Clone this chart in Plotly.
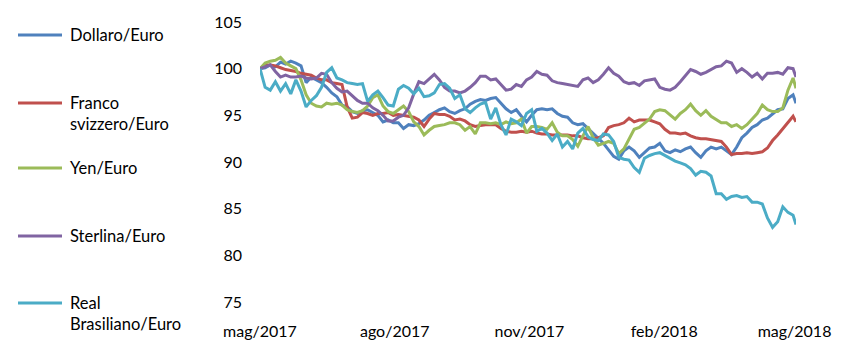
import pandas as pd
import plotly.graph_objects as go

# Twice-weekly observations (index, start = 100) plus the last available day
dates = list(pd.date_range("2017-05-01", periods=105, freq="84h")) + [pd.Timestamp("2018-05-02")]

dollaro = [100.0, 100.1, 100.4, 100.2, 100.7, 100.5, 100.8, 100.6, 100.3, 98.5,
           99.1, 98.8, 98.5, 98.0, 97.4, 97.0, 96.1, 95.9, 95.4, 95.2,
           95.5, 95.6, 95.3, 95.0, 94.3, 94.5, 94.2, 94.2, 93.6, 94.0,
           93.9, 94.1, 94.5, 95.0, 95.3, 95.6, 95.8, 95.4, 95.2, 95.5,
           95.7, 96.2, 96.5, 96.7, 96.6, 96.8, 96.9, 96.3, 95.7, 95.3,
           95.6, 94.9, 94.3, 95.0, 95.6, 95.7, 95.6, 95.7, 95.2, 94.9,
           94.8, 94.2, 94.0, 94.1, 93.6, 93.0, 92.6, 92.0, 91.3, 90.6,
           90.3, 91.2, 91.6, 91.2, 90.5, 91.0, 91.5, 91.6, 92.0, 91.2,
           91.0, 91.3, 91.1, 91.4, 91.6, 91.0, 90.5, 91.2, 91.6, 91.4,
           91.6, 91.2, 90.8, 91.6, 92.6, 93.1, 93.7, 94.0, 94.5, 94.7,
           95.2, 95.6, 95.7, 96.8, 97.2, 96.3]
franco = [100.0, 100.4, 100.4, 100.3, 100.1, 99.9, 99.8, 99.7, 99.5, 99.4,
          99.3, 99.0, 98.8, 98.8, 98.5, 98.4, 98.3, 95.9, 94.7, 94.8,
          95.3, 95.2, 95.0, 95.2, 95.2, 95.3, 95.0, 95.1, 95.0, 94.9,
          94.8, 94.5, 93.8, 94.6, 95.2, 95.1, 95.1, 94.9, 94.5, 94.6,
          94.4, 94.0, 93.8, 93.9, 94.0, 94.0, 94.0, 93.6, 93.3, 93.2,
          93.2, 93.3, 93.2, 93.3, 93.1, 93.0, 93.0, 92.9, 92.9, 92.9,
          92.9, 92.8, 92.8, 92.6, 92.5, 92.5, 92.6, 92.8, 93.7, 93.9,
          94.0, 94.2, 94.7, 94.3, 94.5, 94.5, 94.5, 94.3, 94.1, 93.5,
          93.1, 93.1, 93.0, 93.1, 92.8, 92.6, 92.5, 92.5, 92.4, 92.3,
          92.2, 91.6, 90.8, 90.9, 90.9, 91.0, 90.9, 91.0, 91.1, 91.5,
          92.3, 92.9, 93.6, 94.2, 94.9, 94.3]
yen = [100.0, 100.6, 100.8, 100.9, 101.2, 100.6, 100.3, 100.0, 98.8, 97.2,
       96.3, 96.0, 95.9, 96.3, 96.2, 96.3, 96.1, 95.6, 95.4, 95.3,
       95.5, 96.0, 96.9, 97.2, 96.0, 95.4, 95.2, 95.6, 96.0, 95.4,
       94.3, 93.8, 92.9, 93.4, 93.8, 93.9, 94.0, 94.2, 94.2, 94.0,
       93.4, 93.8, 93.0, 94.2, 94.2, 94.1, 94.2, 94.0, 94.3, 94.1,
       94.2, 94.6, 93.1, 93.8, 93.8, 93.7, 93.5, 94.2, 93.2, 92.8,
       92.8, 92.4, 91.7, 92.8, 93.8, 92.6, 91.8, 92.0, 92.2, 92.0,
       90.9, 91.4, 92.5, 93.5, 93.7, 94.1, 94.6, 95.4, 95.6, 95.5,
       95.0, 94.6, 95.2, 95.6, 96.2, 95.5, 95.0, 95.5, 94.9, 94.5,
       94.2, 94.2, 93.8, 94.0, 93.6, 94.0, 94.6, 95.2, 96.1, 95.6,
       95.4, 95.4, 95.8, 97.7, 99.0, 97.9]
sterlina = [100.0, 100.2, 100.4, 99.7, 99.1, 99.3, 99.1, 99.1, 99.2, 99.0,
            98.9, 99.0, 99.5, 99.4, 98.5, 97.9, 97.5, 97.6, 97.1, 96.6,
            96.3, 96.3, 95.8, 95.5, 95.0, 94.4, 94.4, 94.8, 95.0, 95.8,
            97.3, 98.6, 98.4, 98.9, 99.4, 98.8, 98.0, 97.6, 97.6, 97.4,
            97.6, 98.0, 98.5, 99.2, 99.2, 98.8, 98.9, 98.3, 97.7, 97.8,
            98.3, 98.1, 98.8, 99.1, 99.7, 99.4, 99.3, 98.7, 98.5, 98.4,
            98.3, 98.2, 98.1, 98.8, 99.0, 98.5, 98.8, 99.4, 100.1, 99.5,
            99.2, 98.6, 98.4, 98.5, 98.2, 98.7, 98.8, 98.9, 98.0, 97.8,
            97.7, 98.0, 98.6, 99.3, 99.9, 99.7, 99.4, 99.6, 99.9, 100.2,
            100.3, 100.8, 100.6, 99.6, 100.0, 99.6, 99.1, 99.5, 98.9, 99.5,
            99.5, 99.6, 99.4, 100.1, 100.0, 99.1]
real = [100.0, 98.0, 97.7, 98.6, 97.6, 98.4, 97.3, 98.8, 97.6, 95.9,
        96.6, 97.1, 98.0, 99.6, 100.1, 99.0, 98.8, 98.5, 98.4, 98.3,
        98.4, 96.5, 97.2, 97.6, 96.9, 96.1, 96.0, 97.8, 98.2, 97.9,
        97.3, 97.9, 97.0, 97.1, 97.4, 98.3, 98.4, 97.9, 96.8, 97.2,
        95.7, 95.3, 95.8, 96.2, 96.4, 94.6, 95.8, 94.0, 92.9, 94.6,
        94.3, 93.9, 95.2, 95.6, 93.3, 93.6, 93.1, 92.3, 93.0, 91.6,
        92.2, 91.4, 93.1, 93.6, 92.7, 92.4, 92.3, 93.0, 92.9, 92.2,
        90.5, 90.3, 90.2, 89.4, 88.9, 90.4, 90.7, 90.9, 91.0, 90.7,
        90.4, 90.1, 89.9, 89.7, 89.3, 88.6, 89.0, 88.9, 88.5, 86.6,
        86.6, 86.0, 86.3, 86.4, 86.2, 86.3, 85.7, 85.7, 85.5, 84.0,
        83.0, 83.6, 85.2, 84.6, 84.3, 83.3]

names = ["Dollaro/Euro", "Franco<br>svizzero/Euro", "Yen/Euro",
         "Sterlina/Euro", "Real<br>Brasiliano/Euro"]
colors = ["#4F81BD", "#C0504D", "#9BBB59", "#8064A2", "#4BACC6"]
series = [dollaro, franco, yen, sterlina, real]

tick_dates = ["2017-05-01", "2017-08-01", "2017-11-01", "2018-02-01", "2018-05-01"]
tick_text = ["mag/2017", "ago/2017", "nov/2017", "feb/2018", "mag/2018"]
y_ticks = [75, 80, 85, 90, 95, 100, 105]

FONT = "Lato"
W, H = 841, 341
L, R, T, B = 260, 45, 22, 39
plot_w, plot_h = W - L - R, H - T - B

fig = go.Figure()
for name, col, vals in zip(names, colors, series):
    fig.add_trace(go.Scatter(x=dates, y=vals, mode="lines", name=name,
                             line=dict(color=col, width=3),
                             showlegend=False, hoverinfo="skip"))

# Legend drawn at the left: sample line + label for each series
legend_rows = [35, 103, 168, 236, 303]
for name, col, py in zip(names, colors, legend_rows):
    yp = (H - B - py) / plot_h
    fig.add_shape(type="line", xref="paper", yref="paper",
                  x0=(18 - L) / plot_w, x1=(62 - L) / plot_w, y0=yp, y1=yp,
                  line=dict(color=col, width=3))
    fig.add_annotation(xref="paper", yref="paper", x=(68 - L) / plot_w, y=yp,
                       text=name, showarrow=False, xanchor="left", yanchor="top",
                       yshift=12, align="left",
                       font=dict(family=FONT, size=16.5, color="#000"))

fig.update_layout(
    width=W, height=H,
    margin=dict(l=L, r=R, t=T, b=B, autoexpand=False),
    plot_bgcolor="white", paper_bgcolor="white",
    font=dict(family=FONT, size=16, color="#000"),
    xaxis=dict(type="date", range=["2017-05-01", "2018-05-02"],
               tickvals=tick_dates, ticktext=tick_text,
               showgrid=False, zeroline=False, showline=False,
               ticks="", ticklabelstandoff=18, automargin=False),
    yaxis=dict(range=[75, 105], tickvals=y_ticks,
               showgrid=False, zeroline=False, showline=False,
               ticks="", ticklabelstandoff=17, automargin=False),
)

fig.write_html("out.html")
